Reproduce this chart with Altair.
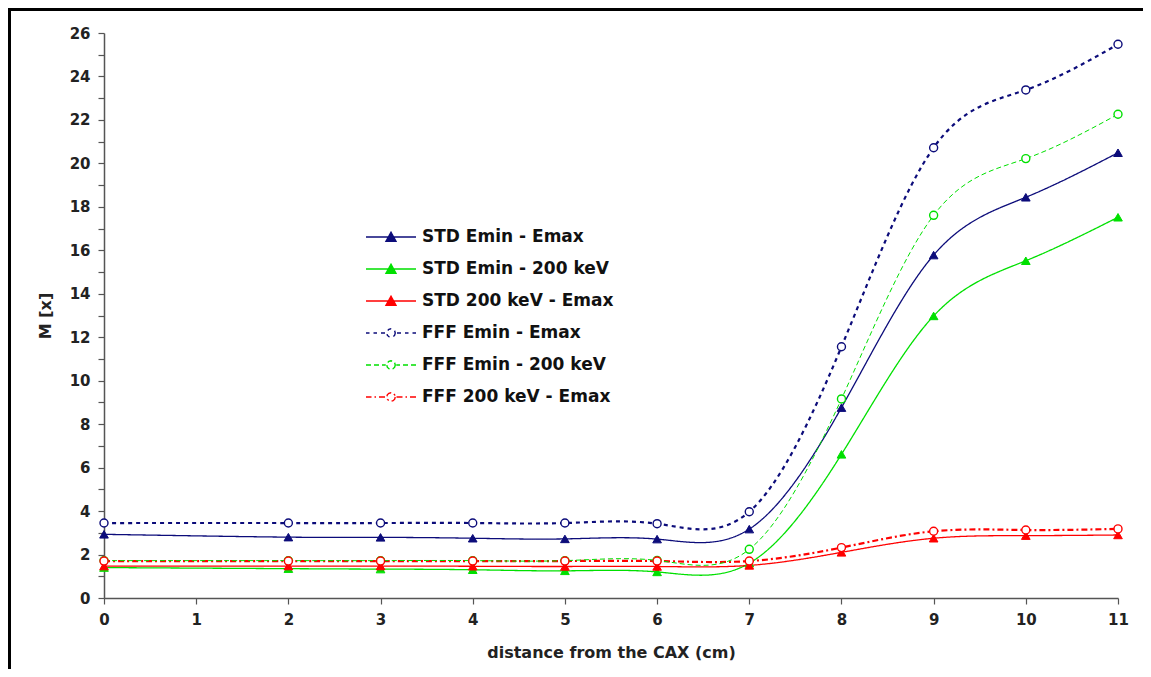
import math
import altair as alt
import pandas as pd

# ---------------- data ----------------
distance = [0, 2, 3, 4, 5, 6, 7, 8, 9, 10, 11]

series_names = [
    "STD Emin - Emax",
    "STD Emin - 200 keV",
    "STD 200 keV - Emax",
    "FFF Emin - Emax",
    "FFF Emin - 200 keV",
    "FFF 200 keV - Emax",
]

std_emin_emax = [2.93, 2.80, 2.79, 2.75, 2.72, 2.71, 3.17, 8.76, 15.78, 18.44, 20.49]
std_emin_200 = [1.40, 1.35, 1.33, 1.30, 1.25, 1.20, 1.60, 6.61, 12.98, 15.52, 17.52]
std_200_emax = [1.47, 1.47, 1.47, 1.46, 1.45, 1.45, 1.50, 2.10, 2.75, 2.87, 2.90]
fff_emin_emax = [3.45, 3.45, 3.45, 3.45, 3.45, 3.42, 3.97, 11.56, 20.72, 23.38, 25.48]
fff_emin_200 = [1.72, 1.72, 1.72, 1.72, 1.72, 1.73, 2.24, 9.16, 17.61, 20.22, 22.26]
fff_200_emax = [1.70, 1.70, 1.70, 1.70, 1.70, 1.70, 1.70, 2.32, 3.07, 3.13, 3.18]

x_tick_values = [0, 0.5, 1, 1.5, 2, 2.5, 3, 3.5, 4, 4.5, 5, 5.5, 6, 6.5,
                 7, 7.5, 8, 8.5, 9, 9.5, 10, 10.5, 11]
y_tick_values = [0, 1, 2, 3, 4, 5, 6, 7, 8, 9, 10, 11, 12, 13,
                 14, 15, 16, 17, 18, 19, 20, 21, 22, 23, 24, 25, 26]
x_domain = [0, 11]
y_domain = [0, 26]

# ---------------- table ----------------
all_values = [std_emin_emax, std_emin_200, std_200_emax,
              fff_emin_emax, fff_emin_200, fff_200_emax]
rows = []
for name, vals in zip(series_names, all_values):
    for d, v in zip(distance, vals):
        rows.append({"distance": d, "M": v, "series": name, "beam": name.split()[0]})
df = pd.DataFrame(rows)
one_row = pd.DataFrame({"k": [0]})

# ---------------- layout / styles ----------------
W, H = 1014, 565
PAD = {"left": 96, "top": 25, "right": 25, "bottom": 71}

FONT = "DejaVu Sans"
NAVY, GREEN, RED = "#0c0c7a", "#00e000", "#ff0000"
AXIS_GRAY = "#555555"

xscale = alt.Scale(domain=x_domain, nice=False, zero=False)
yscale = alt.Scale(domain=y_domain, nice=False, zero=False)

stroke_scale = alt.Scale(domain=series_names, range=[NAVY, GREEN, RED, NAVY, GREEN, RED])
fill_scale = alt.Scale(domain=series_names, range=[NAVY, GREEN, RED, "white", "white", "white"])
dash_scale = alt.Scale(domain=series_names,
                       range=[[1, 0], [1, 0], [1, 0], [4, 4], [5, 3], [6, 3, 2, 3]])

# legend glyphs: line segment with the marker in the middle (custom SVG paths)
R = 0.17
circ = "M" + "L".join(
    f"{R * math.cos(math.radians(a)):.3f},{R * math.sin(math.radians(a)):.3f}"
    for a in range(0, 360, 30)
) + "Z"
tri = "M-1,0H1M-0.2,0.17L0,-0.19L0.2,0.17Z"
navy_sym = "M-1,0H-0.86M-0.7,0H-0.56M-0.4,0H-0.24M0.24,0H0.4M0.56,0H0.7M0.86,0H1" + circ
green_sym = "M-1,0H-0.8M-0.68,0H-0.48M-0.36,0H-0.21M0.21,0H0.36M0.48,0H0.68M0.8,0H1" + circ
red_sym = "M-1,0H-0.78M-0.66,0H-0.6M-0.48,0H-0.22M0.22,0H0.46M0.58,0H0.64M0.76,0H1" + circ
shape_scale = alt.Scale(domain=series_names, range=[tri, tri, tri, navy_sym, green_sym, red_sym])

x_axis = alt.Axis(
    values=x_tick_values, format="d",
    labelExpr="datum.value % 1 === 0 ? datum.label : ''",
    grid=False, domainColor=AXIS_GRAY, domainWidth=1.5,
    tickSize=6, tickColor=AXIS_GRAY, tickWidth=1.2,
    labelFont=FONT, labelFontSize=15, labelFontWeight="bold", labelColor="#222222",
    labelPadding=8, labelFlush=False,
    title="distance from the CAX (cm)", titleFont=FONT, titleFontSize=16,
    titleFontWeight="bold", titleColor="#222222", titlePadding=17,
)
y_axis = alt.Axis(
    values=y_tick_values, format="d",
    labelExpr="datum.value % 2 === 0 ? datum.label : ''",
    grid=False, domainColor=AXIS_GRAY, domainWidth=1.5,
    tickSize=6, tickColor=AXIS_GRAY, tickWidth=1.2,
    labelFont=FONT, labelFontSize=15, labelFontWeight="bold", labelColor="#222222",
    labelPadding=8, labelFlush=False,
    title="M [x]", titleFont=FONT, titleFontSize=16, titleFontWeight="bold",
    titleColor="#222222", titlePadding=16,
)

legend = alt.Legend(
    title=None, orient="none", legendX=261, legendY=195.5, padding=0,
    symbolSize=2500, symbolStrokeWidth=1.4, symbolOpacity=1, clipHeight=17,
    labelFont=FONT, labelFontSize=17, labelFontWeight="bold", labelColor="#111111",
    labelOffset=5, labelLimit=400, rowPadding=14,
)

# ---------------- layers ----------------
base = alt.Chart(df)
enc_x = alt.X("distance:Q", scale=xscale, axis=x_axis)
enc_y = alt.Y("M:Q", scale=yscale, axis=y_axis)
enc_stroke = alt.Stroke("series:N", scale=stroke_scale, legend=legend)
enc_fill = alt.Fill("series:N", scale=fill_scale, legend=legend)


def lines(names, width):
    return base.transform_filter(
        alt.FieldOneOfPredicate(field="series", oneOf=names)
    ).mark_line(interpolate="natural", strokeWidth=width).encode(
        x=enc_x, y=enc_y, stroke=enc_stroke,
        strokeDash=alt.StrokeDash("series:N", scale=dash_scale, legend=None),
        detail="series:N",
    )


std_lines = lines(series_names[:3], 1.3)
fff_thick = lines([series_names[3], series_names[5]], 2.2)
fff_thin = lines([series_names[4]], 1.0)

triangles = base.transform_filter(alt.datum.beam == "STD").mark_point(
    shape="triangle-up", filled=True, size=75, opacity=1, strokeWidth=1
).encode(x=enc_x, y=enc_y, stroke=enc_stroke, fill=enc_fill)

circles = base.transform_filter(alt.datum.beam == "FFF").mark_point(
    shape="circle", filled=True, size=64, opacity=1, strokeWidth=1.4
).encode(x=enc_x, y=enc_y, stroke=enc_stroke, fill=enc_fill)

# invisible layer that gives the legend its glyphs
legend_layer = base.mark_point(filled=True, opacity=0).encode(
    x=enc_x, y=enc_y, stroke=enc_stroke, fill=enc_fill,
    shape=alt.Shape("series:N", scale=shape_scale, legend=legend),
)

# figure frame (top and left edges of the original picture), as explicit segments
frame_top = alt.Chart(one_row).mark_rule(color="black", strokeWidth=3).encode(
    x=alt.value(-96), x2=alt.value(W + PAD["right"]),
    y=alt.value(-23.5), y2=alt.value(-23.5),
)
frame_left = alt.Chart(one_row).mark_rule(color="black", strokeWidth=3).encode(
    x=alt.value(-94.5), x2=alt.value(-94.5),
    y=alt.value(-25), y2=alt.value(H + PAD["bottom"]),
)

chart = alt.layer(
    std_lines, fff_thick, fff_thin, triangles, circles, legend_layer,
    frame_top, frame_left,
).properties(
    width=W, height=H, padding=PAD,
    autosize=alt.AutoSizeParams(type="none"),
    background="white",
).configure_view(stroke=None)

chart.save("out.html", embed_options={"renderer": "svg", "actions": False})
